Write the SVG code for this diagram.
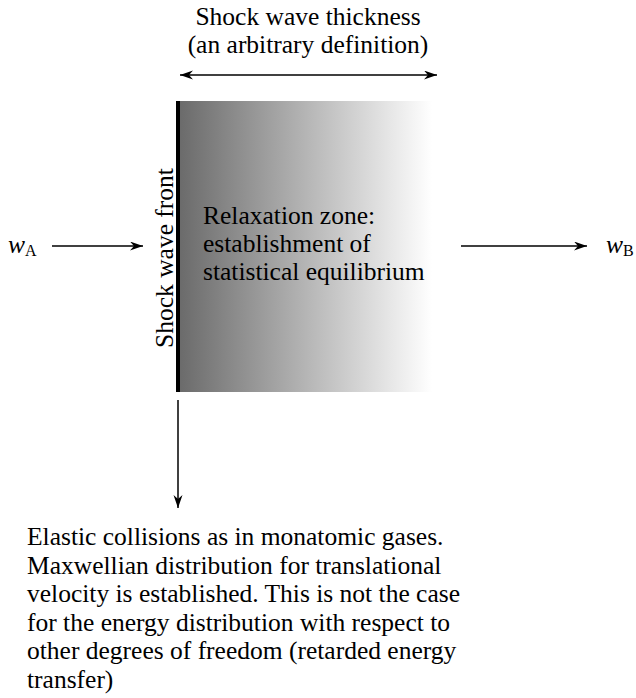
<svg xmlns="http://www.w3.org/2000/svg" width="636" height="698" viewBox="0 0 636 698">
<style>
text{font-family:"Liberation Serif","Times New Roman","DejaVu Serif",serif;font-size:25.5px;fill:#000}
.it{font-style:italic}
.sub{font-size:16px;font-style:normal}
.ln{stroke:#000;stroke-width:1.5;fill:none}
</style>
<defs>
<linearGradient id="g" x1="0" y1="0" x2="1" y2="0">
<stop offset="0" stop-color="#6b6b6b"/>
<stop offset="1" stop-color="#ffffff"/>
</linearGradient>
<marker id="ah" markerUnits="userSpaceOnUse" markerWidth="14" markerHeight="10" refX="13" refY="4.5" orient="auto-start-reverse">
<path d="M0,0 L13,4.5 L0,9 L4,4.5 Z" fill="#000"/>
</marker>
</defs>
<g id="relaxation-zone" font-family="Liberation Serif, serif">
<rect x="180" y="101" width="252" height="291" fill="url(#g)"/>
<text x="203" y="224">Relaxation zone:</text>
<text x="203" y="252">establishment of</text>
<text x="203" y="280">statistical equilibrium</text>
</g>
<g id="shock-front" font-family="Liberation Serif, serif">
<rect x="176" y="101" width="4" height="291" fill="#000"/>
<text transform="translate(173,258) rotate(-90)" text-anchor="middle">Shock wave front</text>
</g>
<g id="thickness-label" font-family="Liberation Serif, serif">
<text x="308" y="25" text-anchor="middle">Shock wave thickness</text>
<text x="308" y="53" text-anchor="middle">(an arbitrary definition)</text>
</g>
<g id="wA" font-family="Liberation Serif, serif">
<text x="8" y="253" class="it">w<tspan class="sub" dy="3">A</tspan></text>
</g>
<g id="wB" font-family="Liberation Serif, serif">
<text x="606" y="253" class="it">w<tspan class="sub" dy="3">B</tspan></text>
</g>
<g id="collisions-note" font-family="Liberation Serif, serif">
<text x="27" y="545">Elastic collisions as in monatomic gases.</text>
<text x="27" y="573.5">Maxwellian distribution for translational</text>
<text x="27" y="602">velocity is established. This is not the case</text>
<text x="27" y="630.5">for the energy distribution with respect to</text>
<text x="27" y="659">other degrees of freedom (retarded energy</text>
<text x="27" y="687.5">transfer)</text>
</g>
<g id="connectors">
<line class="ln" x1="180" y1="75" x2="437" y2="75" marker-start="url(#ah)" marker-end="url(#ah)"/>
<line class="ln" x1="52" y1="246" x2="143" y2="246" marker-end="url(#ah)"/>
<line class="ln" x1="461" y1="246" x2="587" y2="246" marker-end="url(#ah)"/>
<line class="ln" x1="178" y1="400" x2="178" y2="508" marker-end="url(#ah)"/>
</g>
</svg>
